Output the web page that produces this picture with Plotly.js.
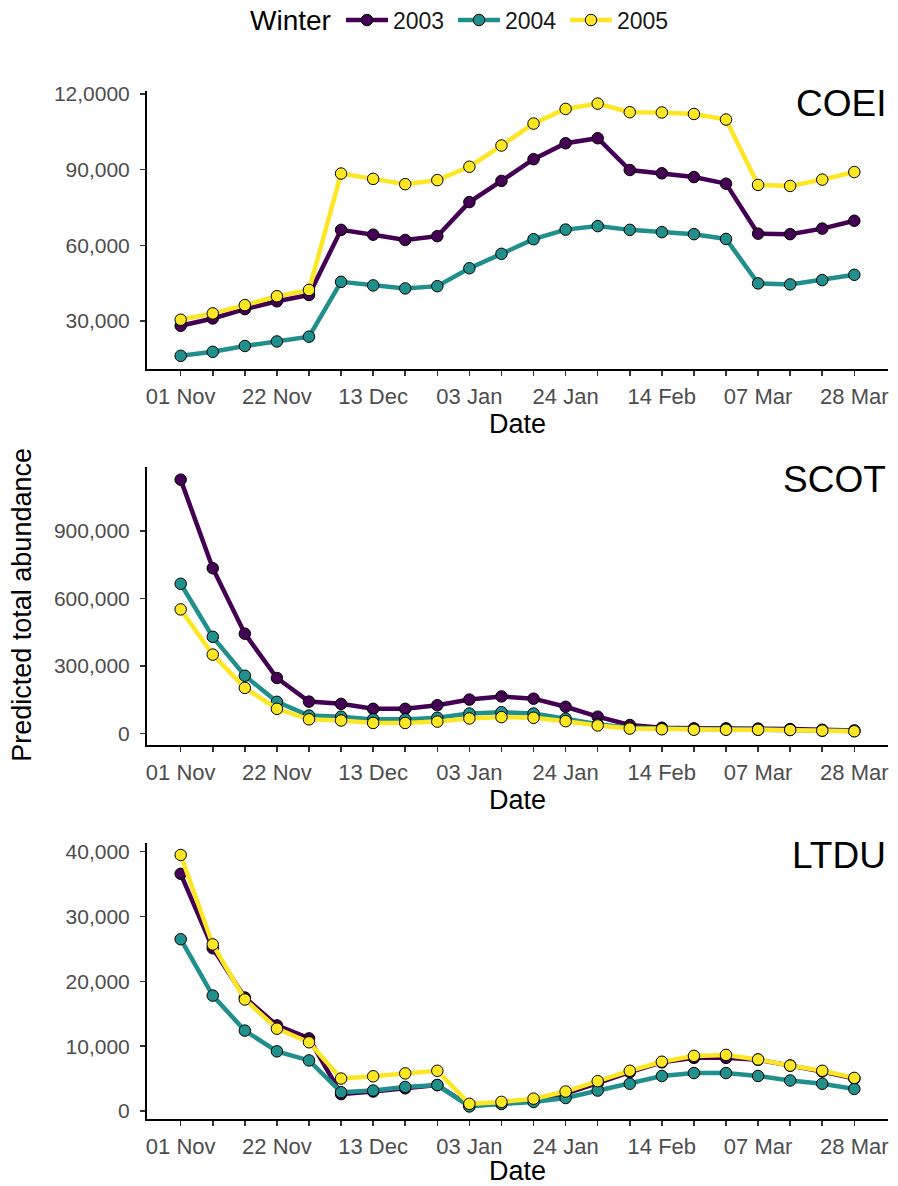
<!DOCTYPE html>
<html>
<head>
<meta charset="utf-8">
<script src="https://cdn.plot.ly/plotly-3.0.1.min.js"></script>
<style>html,body{margin:0;padding:0;background:#fff;}#chart{width:898px;height:1186px;}</style>
</head>
<body>
<div id="chart"></div>
<script>
// Weekly survey dates (non-leap reference winter)
const dates = ['2002-11-01','2002-11-08','2002-11-15','2002-11-22','2002-11-29','2002-12-06','2002-12-13','2002-12-20','2002-12-27','2003-01-03','2003-01-10','2003-01-17','2003-01-24','2003-01-31','2003-02-07','2003-02-14','2003-02-21','2003-02-28','2003-03-07','2003-03-14','2003-03-21','2003-03-28'];
const dateTickText = ['01 Nov','','','22 Nov','','','13 Dec','','','03 Jan','','','24 Jan','','','14 Feb','','','07 Mar','','','28 Mar'];
const winters = ['2003','2004','2005'];
const colors = ['#440154','#21908C','#FDE725'];
const species = ['COEI','SCOT','LTDU'];

const coei2003 = [28100,31000,34700,37800,40300,66100,64200,62100,63600,77100,85500,94100,100400,102400,89800,88500,87000,84400,64600,64400,66600,69700];
const coei2004 = [16200,17800,20100,21900,23800,45500,44100,42900,43800,50900,56600,62400,66200,67600,66100,65200,64400,62500,44900,44500,46200,48300];
const coei2005 = [30500,33000,36300,39800,42300,88400,86300,84200,85800,91100,99500,108200,114000,116100,112700,112600,112000,109800,83900,83500,86000,89000];

const scot2003 = [1128000,734000,443000,246000,141000,131000,109000,109000,125000,150000,164000,154000,118000,74000,37000,25000,22000,22000,21000,19000,16000,13000];
const scot2004 = [665000,429000,256000,140000,79000,74000,62000,62000,69000,88000,94000,88000,65000,40000,25000,20000,19000,18000,17000,15000,12000,10000];
const scot2005 = [551000,350000,202000,109000,62000,57000,46000,46000,52000,66000,72000,69000,54000,35000,21000,18000,16000,16000,16000,15000,12000,9000];

const ltdu2003 = [36600,25100,17500,13200,11200,2600,3000,3500,4000,800,1100,1600,2700,4300,6000,7500,8200,8200,7900,7000,6100,5000];
const ltdu2004 = [26500,17800,12400,9200,7800,2900,3150,3700,4000,700,1100,1400,2000,3150,4200,5400,5850,5850,5400,4700,4200,3400];
const ltdu2005 = [39500,25700,17200,12700,10600,5000,5350,5800,6200,1100,1400,1900,3000,4600,6200,7600,8500,8650,7950,7000,6200,5100];

const coeiTicks = [30000,60000,90000,120000];
const coeiTickText = ['30,000','60,000','90,000','12,0000'];
const scotTicks = [0,300000,600000,900000];
const scotTickText = ['0','300,000','600,000','900,000'];
const ltduTicks = [0,10000,20000,30000,40000];
const ltduTickText = ['0','10,000','20,000','30,000','40,000'];

const panels = [
  {series:[coei2003,coei2004,coei2005], ticks:coeiTicks, text:coeiTickText, range:[11000,121100], domain:[0.7296,1]},
  {series:[scot2003,scot2004,scot2005], ticks:scotTicks, text:scotTickText, range:[-52000,1184000], domain:[0.3638,0.6342]},
  {series:[ltdu2003,ltdu2004,ltdu2005], ticks:ltduTicks, text:ltduTickText, range:[-1240,41400], domain:[0,0.2688]}
];

const traces = [];
panels.forEach((p, pi) => {
  const sfx = pi === 0 ? '' : String(pi + 1);
  p.series.forEach((vals, si) => {
    traces.push({
      type:'scatter', mode:'lines+markers',
      x: dates, y: vals, name: winters[si],
      xaxis: 'x' + sfx, yaxis: 'y' + sfx,
      legendgroup: winters[si], showlegend: pi === 0,
      line:{color: colors[si], width:4.5},
      marker:{color: colors[si], size:11.5, line:{color:'#000', width:1}}
    });
  });
});

const DAY = 86400000;
const x0 = new Date('2002-11-01T00:00:00Z').getTime() - 7.35*DAY;
const x1 = new Date('2003-03-28T00:00:00Z').getTime() + 7.35*DAY;
function iso(t){ return new Date(t).toISOString().replace('T',' ').replace('Z',''); }

const fontFam = 'Liberation Sans, Arial, sans-serif';
const layout = {
  width:898, height:1186,
  margin:{l:147, r:10, t:91, b:67, autoexpand:false},
  paper_bgcolor:'#fff', plot_bgcolor:'#fff',
  font:{family:fontFam, color:'#000'},
  showlegend:true,
  legend:{orientation:'h', x:0.2618, xanchor:'left', y:1.069, yanchor:'middle',
          font:{size:23, color:'#1a1a1a'}, itemwidth:42, entrywidth:55, entrywidthmode:'pixels',
          tracegroupgap:0, bgcolor:'rgba(0,0,0,0)'},
  annotations:[
    {text:'Winter', xref:'paper', yref:'paper', x:0.1363, y:1.069, xanchor:'left', yanchor:'middle', showarrow:false, font:{size:28, color:'#000'}},
    {text:'Predicted total abundance', xref:'paper', yref:'paper', x:-0.169, y:0.5, xanchor:'center', yanchor:'middle', textangle:-90, showarrow:false, font:{size:27, color:'#000'}}
  ]
};

panels.forEach((p, pi) => {
  const sfx = pi === 0 ? '' : String(pi + 1);
  layout['xaxis' + sfx] = {
    type:'date', range:[iso(x0), iso(x1)], anchor:'y' + sfx,
    tickmode:'array', tickvals:dates, ticktext:dateTickText,
    showline:true, linecolor:'#000', linewidth:2, mirror:false,
    ticks:'outside', ticklen:5, tickwidth:1.5, tickcolor:'#333',
    showgrid:false, zeroline:false, ticklabelstandoff:2,
    tickfont:{size:22, color:'#4d4d4d'},
    title:{text:'Date', font:{size:27, color:'#000'}, standoff:3}
  };
  layout['yaxis' + sfx] = {
    domain:p.domain, range:p.range, anchor:'x' + sfx,
    tickmode:'array', tickvals:p.ticks, ticktext:p.text,
    showline:true, linecolor:'#000', linewidth:2,
    ticks:'outside', ticklen:5, tickwidth:1.5, tickcolor:'#333',
    showgrid:false, zeroline:false, ticklabelstandoff:6,
    tickfont:{size:21, color:'#4d4d4d'}
  };
  layout.annotations.push({
    text: species[pi], xref:'x' + sfx + ' domain', yref:'y' + sfx + ' domain',
    x:1, y:1.035, xanchor:'right', yanchor:'top', showarrow:false,
    font:{size:37, color:'#000'}
  });
});

Plotly.newPlot('chart', traces, layout, {displayModeBar:false, staticPlot:true});
</script>
</body>
</html>
